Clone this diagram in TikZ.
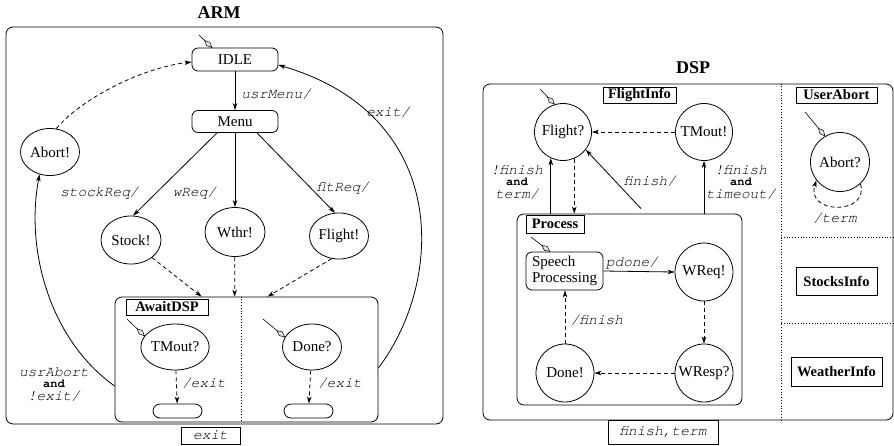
\documentclass[tikz,border=0pt]{standalone}
\usepackage{fontspec}
\setmainfont{Liberation Serif}
\newfontfamily\labfont{texgyrecursor}[Extension=.otf, UprightFont=*-regular, ItalicFont=*-italic, BoldFont=*-bold, BoldItalicFont=*-bolditalic]
\usetikzlibrary{arrows.meta,shapes.geometric,calc}
\definecolor{mkc}{RGB}{228,228,210}
\newcommand\andfnt{\labfont\bfseries\upshape\fontsize{12}{12}\selectfont}
\begin{document}
\begin{tikzpicture}[x=1pt,y=-1pt,
  every node/.style={font=\fontsize{15}{16}\selectfont},
  >={Stealth[length=7pt,width=4.5pt,inset=2pt]},
  line width=0.8pt,
  conn/.style={->},
  dconn/.style={->,dash pattern=on 4pt off 3pt},
  rbox/.style={draw, rounded corners=6pt, inner sep=0pt},
  frame/.style={draw, rounded corners=7pt, inner sep=0pt},
  ell/.style={draw, ellipse, inner sep=0pt},
  circ/.style={draw, circle, inner sep=0pt, minimum size=57pt},
  tag/.style={draw, inner sep=0pt, font=\fontsize{14.5}{16}\selectfont\bfseries},
  ttl/.style={font=\fontsize{18}{20}\selectfont\bfseries},
  lab/.style={inner sep=0pt, font=\labfont\fontsize{14.5}{12}\selectfont\itshape},
  evbox/.style={draw, inner sep=0pt, font=\labfont\fontsize{14.5}{15}\selectfont\itshape},
  initl/.style={line width=0.6pt},
  mkr/.style={pos=1, sloped, anchor=east, diamond, draw, fill=mkc, inner sep=0pt,
    minimum width=10pt, minimum height=5pt, line width=0.5pt}
]
\useasboundingbox (0,0) rectangle (894,445);

% ================= ARM =================
\node[ttl] (armt) at (219,13) {ARM};
\node[frame, minimum width=437pt, minimum height=397pt] (arm) at (224.5,225.5) {};
\node[evbox, minimum width=59pt, minimum height=17pt] (exitb) at (210.5,435.5) {exit};

\node[rbox, minimum width=86pt, minimum height=23pt] (idle) at (235,59.5) {IDLE};
\node[rbox, minimum width=86pt, minimum height=22pt] (menu) at (235,121.5) {Menu};
\node[ell, minimum width=59pt, minimum height=47pt] (abort) at (50,152) {Abort!};
\node[ell, minimum width=60pt, minimum height=48pt] (stock) at (131,240) {Stock!};
\node[ell, minimum width=60pt, minimum height=49pt] (wthr) at (235,232) {Wthr!};
\node[ell, minimum width=59pt, minimum height=46pt] (flight) at (339,236) {Flight!};

\node[frame, minimum width=263pt, minimum height=125pt] (await) at (246.5,359.5) {};
\node[tag, minimum width=82pt, minimum height=16pt] (awaitt) at (167,307) {AwaitDSP};
\draw[dotted] ([xshift=-5.5pt]await.north) -- ([xshift=-5.5pt]await.south);
\node[ell, minimum width=60pt, minimum height=46pt] (tmq) at (175,347) {TMout?};
\node[ell, minimum width=59pt, minimum height=46pt] (doneq) at (312,347) {Done?};
\node[draw, rounded corners=7pt, minimum width=49pt, minimum height=14pt, inner sep=0pt] (fin1) at (177.5,411) {};
\node[draw, rounded corners=7pt, minimum width=49pt, minimum height=14pt, inner sep=0pt] (fin2) at (308.5,411) {};

\draw[conn] (idle) -- (menu);
\draw[conn] ([xshift=-18pt]menu.south) -- (stock.85);
\draw[conn] (menu) -- (wthr);
\draw[conn] ([xshift=22pt]menu.south) -- (flight.100);
\draw[dconn] (stock.-40) -- ($(await.north west)+(87,0)$);
\draw[dconn] (wthr) -- ($(await.north west)+(120,0)$);
\draw[dconn] (flight.-108) -- ($(await.north west)+(153,0)$);
\draw[dconn] (tmq) -- (fin1);
\draw[dconn] (doneq) -- (fin2);
\draw[dconn] (abort.75) .. controls (80,100) and (140,68) .. ([yshift=-2.5pt]idle.west);
\draw[conn] ([yshift=-8.5pt]await.east) .. controls (445,280) and (450,115) .. ([yshift=-5.5pt]idle.east);
\draw[conn] ([yshift=-26.5pt]await.west) .. controls (50,340) and (25,250) .. (abort.245);

\coordinate (iIdle) at (199,35);
\draw[initl] (iIdle) -- ([xshift=-23pt]idle.north) node[mkr] {};
\coordinate (iTm) at (127,319);
\draw[initl] (iTm) -- (tmq.160) node[mkr] {};
\coordinate (iDn) at (263,319);
\draw[initl] (iDn) -- (doneq.160) node[mkr] {};

\node[lab, anchor=west] (lUsrMenu) at (241,94) {usrMenu/};
\node[lab] (lExit) at (388,112) {exit/};
\node[lab] (lStock) at (99.5,193) {stockReq/};
\node[lab] (lW) at (194.5,193) {wReq/};
\node[lab] (lF) at (343,188) {fltReq/};
\node[lab] (lE1) at (204,383) {/exit};
\node[lab] (lE2) at (340,383) {/exit};
\node[lab, align=center] (lUA) at (54,385) {usrAbort\\[-1pt]{\andfnt and}\\[1pt]!exit/};

% ================= DSP =================
\node[ttl] (dspt) at (693,68) {DSP};
\node[frame, minimum width=410pt, minimum height=336pt] (dsp) at (688,252) {};
\draw[dotted] ([xshift=93pt]dsp.north) -- ([xshift=93pt]dsp.south);
\coordinate (h1) at (781,237);
\coordinate (h2) at (781,323);
\draw[dotted] (h1) -- (h1 -| dsp.east);
\draw[dotted] (h2) -- (h2 -| dsp.east);

\node[tag, minimum width=73pt, minimum height=16pt] (fit) at (639.5,95) {FlightInfo};
\node[tag, minimum width=81pt, minimum height=16pt] (uat) at (836.5,95) {UserAbort};
\node[circ] (fq) at (563,132) {Flight?};
\node[circ] (tmx) at (704,132) {TMout!};
\node[frame, minimum width=225pt, minimum height=191pt] (proc) at (629.5,309.5) {};
\node[tag, minimum width=58pt, minimum height=18pt] (proct) at (555,224) {Process};
\node[rbox, minimum width=77pt, minimum height=38pt, align=left] (sp) at (564.5,271) {Speech\\Processing};
\node[circ, minimum size=58pt] (wq) at (704,272) {WReq!};
\node[circ, minimum size=58pt] (wr) at (704,373) {WResp?};
\node[circ, minimum size=58pt] (dn) at (565,373) {Done!};
\node[circ, minimum size=59pt] (aq) at (840,162) {Abort?};
\node[tag, minimum width=81pt, minimum height=28pt] (si) at (836.5,281) {StocksInfo};
\node[tag, minimum width=91pt, minimum height=29pt] (wi) at (836.5,371.5) {WeatherInfo};
\node[evbox, minimum width=110pt, minimum height=24pt] (ft) at (663,432) {finish,term};

\draw[dconn] (tmx) -- (fq);
\draw[conn] (fq.245 |- proc.north) -- (fq.245);
\draw[dconn] (fq.293) -- (fq.293 |- proc.north);
\draw[conn] ($(proc.north)+(11.5,-5)$) -- (fq.322);
\draw[conn] (tmx.south |- proc.north) -- (tmx.south);
\draw[conn] (sp.east) -- (wq.west);
\draw[dconn] (wq) -- (wr);
\draw[dconn] (wr) -- (dn);
\draw[dconn] (dn.north) -- (dn.north |- sp.south);
\draw[dconn] (aq.313) .. controls (870,215) and (805,215) .. (aq.218);

\coordinate (iFq) at (540,89);
\draw[initl] (iFq) -- (fq.107) node[mkr] {};
\coordinate (iSp) at (531,237);
\draw[initl] (iSp) -- ([xshift=-14.5pt]sp.north) node[mkr] {};
\coordinate (iAq) at (805,112);
\draw[initl] (iAq) -- (aq.120) node[mkr] {};

\node[lab, align=center] (lFT) at (517,183) {!finish\\[-1pt]{\andfnt and}\\[1pt]term/};
\node[lab] (lFin) at (650,181) {finish/};
\node[lab, align=center] (lFTo) at (741,183) {!finish\\[-1pt]{\andfnt and}\\[1pt]timeout/};
\node[lab] (lTerm) at (835,218) {/term};
\node[lab] (lPd) at (632,263) {pdone/};
\node[lab] (lFin2) at (597,320) {/finish};
\end{tikzpicture}
\end{document}
